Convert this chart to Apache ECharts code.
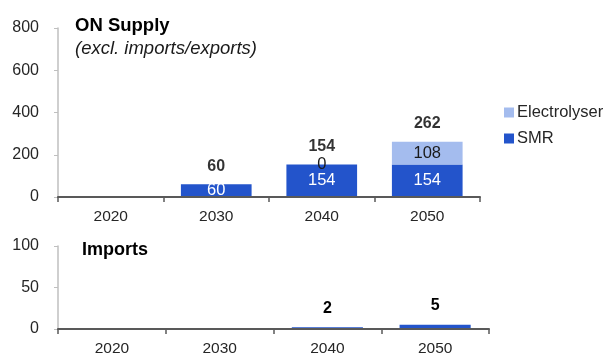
<!DOCTYPE html>
<html><head><meta charset="utf-8">
<script src="https://cdn.jsdelivr.net/npm/echarts@6/dist/echarts.min.js"></script>
<style>html,body{margin:0;padding:0;background:#fff}#c{width:612px;height:360px}</style>
</head><body><div id="c"></div>
<script>
const categories = ['2020', '2030', '2040', '2050'];
const smr = [null, 60, 154, 154];
const electrolyser = [null, null, 0, 108];
const supplyTotals = [null, 60, 154, 262];
const imports = [null, null, 2, 5];

const FONT = 'Liberation Sans, Arial, sans-serif';
const SMR_C = '#2354CB';
const ELE_C = '#A4BCEE';

const chart = echarts.init(document.getElementById('c'), null, {renderer: 'canvas'});
const axisX = (gi) => ({
  type: 'category', gridIndex: gi, data: categories, z: 5,
  axisLine: {lineStyle: {color: '#595959', width: 2}},
  axisTick: {show: true, length: 5, lineStyle: {color: '#595959', width: 1.5}},
  axisLabel: {color: '#262626', fontSize: 15.5, fontFamily: FONT, margin: 12}
});
const axisY = (gi, max, interval) => ({
  type: 'value', gridIndex: gi, min: 0, max: max, interval: interval,
  splitLine: {show: false},
  axisLine: {show: true, lineStyle: {color: '#BFBFBF', width: 1.5}},
  axisTick: {show: true, length: 4, lineStyle: {color: '#BFBFBF'}},
  axisLabel: {color: '#262626', fontSize: 16, fontFamily: FONT, margin: 19}
});
chart.setOption({
  animation: false,
  grid: [
    {left: 58, right: 132, top: 28, bottom: 163},
    {left: 58, right: 123, top: 246, bottom: 31}
  ],
  title: [
    {text: 'ON Supply', left: 70, top: 11, textStyle: {fontFamily: FONT, fontSize: 18.5, fontWeight: 'bold', color: '#000'}},
    {text: '(excl. imports/exports)', left: 70, top: 34, textStyle: {fontFamily: FONT, fontSize: 18.5, fontStyle: 'italic', fontWeight: 'normal', color: '#1a1a1a'}},
    {text: 'Imports', left: 77, top: 236, textStyle: {fontFamily: FONT, fontSize: 18, fontWeight: 'bold', color: '#000'}}
  ],
  legend: {
    orient: 'vertical', left: 499, top: 99, itemWidth: 10, itemHeight: 10, itemGap: 9,
    icon: 'rect', data: ['Electrolyser', 'SMR'],
    textStyle: {fontFamily: FONT, fontSize: 16.5, color: '#262626', padding: [0, 0, 0, -2]}
  },
  xAxis: [axisX(0), axisX(1)],
  yAxis: [axisY(0, 800, 200), axisY(1, 100, 50)],
  series: [
    {name: 'SMR', type: 'bar', stack: 's', xAxisIndex: 0, yAxisIndex: 0, data: smr,
     barCategoryGap: '33%', itemStyle: {color: SMR_C},
     label: {show: true, position: 'inside', color: '#fff', fontSize: 16.5, fontFamily: FONT}},
    {name: 'Electrolyser', type: 'bar', stack: 's', xAxisIndex: 0, yAxisIndex: 0, data: electrolyser,
     barCategoryGap: '33%', itemStyle: {color: ELE_C},
     label: {show: true, position: 'inside', color: '#1a1a1a', fontSize: 16.5, fontFamily: FONT}},
    {name: 'Total', type: 'scatter', xAxisIndex: 0, yAxisIndex: 0, data: supplyTotals,
     symbolSize: 0, silent: true,
     label: {show: true, position: 'top', distance: 10, color: '#000', fontWeight: 'bold', fontSize: 16, fontFamily: FONT}},
    {name: 'Imports', type: 'bar', xAxisIndex: 1, yAxisIndex: 1, data: imports,
     barCategoryGap: '34%', itemStyle: {color: SMR_C},
     label: {show: true, position: 'top', distance: 11, color: '#000', fontWeight: 'bold', fontSize: 16, fontFamily: FONT}}
  ]
});
</script></body></html>
